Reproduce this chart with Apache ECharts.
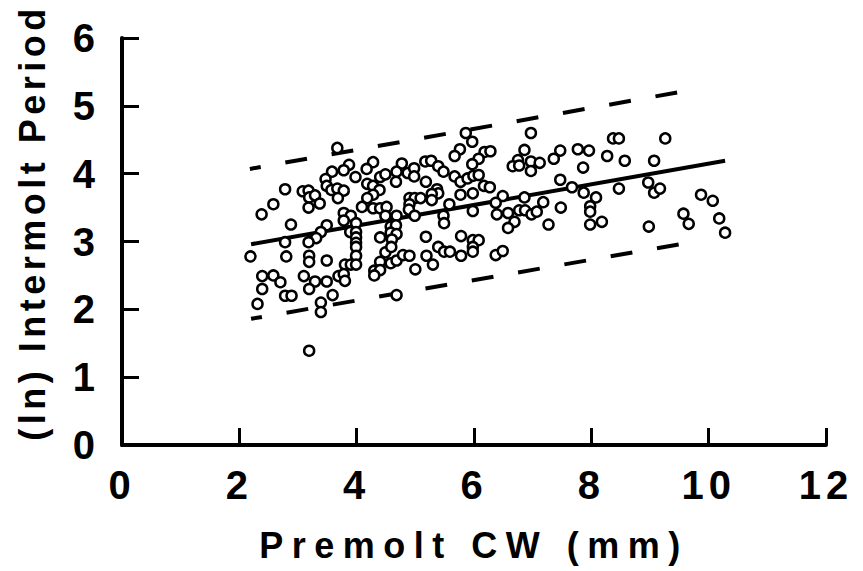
<!DOCTYPE html>
<html>
<head>
<meta charset="utf-8">
<script src="https://cdn.jsdelivr.net/npm/echarts@6/dist/echarts.min.js"></script>
<style>
  html, body { margin: 0; padding: 0; background: #fff; }
  #chart { width: 863px; height: 571px; }
  svg text { letter-spacing: 5px; }
</style>
</head>
<body>
<div id="chart"></div>
<script>
// Premolt carapace width (mm) of each observation
const cwX = [
  3.67,3.87,3.78,3.58,3.98,4.28,4.17,4.40,4.49,3.47,3.49,3.57,3.67,3.78,3.68,4.18,4.28,4.39,4.28,4.18,
  4.09,4.28,4.40,4.51,4.49,2.78,3.08,3.18,3.19,3.29,3.18,3.37,2.58,2.38,2.88,3.78,3.90,3.78,3.99,3.49,
  3.39,3.31,3.18,2.78,3.89,3.99,3.99,3.99,3.99,4.40,2.19,2.80,3.19,3.19,3.49,3.99,3.80,3.90,3.99,4.49,
  4.40,4.30,4.40,4.30,2.39,2.58,2.70,2.39,3.10,3.29,3.19,3.49,3.69,3.78,3.80,2.78,2.89,3.59,2.31,3.39,
  3.39,3.19,
  5.86,5.97,6.97,5.76,5.67,6.18,6.28,6.08,5.97,6.86,6.75,6.66,6.77,6.97,6.97,4.77,4.68,4.67,4.87,4.98,
  4.98,5.17,5.27,5.39,5.48,5.18,5.67,5.77,5.89,5.99,6.08,6.17,6.27,5.37,5.39,5.28,5.28,4.90,4.99,5.09,
  4.90,4.89,5.77,5.98,5.58,5.48,5.49,5.98,6.39,6.49,6.58,6.69,6.58,6.77,6.87,6.86,6.98,7.07,4.68,4.58,
  4.67,4.58,4.68,4.60,4.59,4.58,4.68,4.79,4.90,5.00,5.18,5.19,5.30,5.39,5.49,5.59,5.78,5.78,5.98,6.08,
  5.98,5.98,6.37,6.49,4.68,4.99,6.37,
  8.37,8.47,9.26,7.47,7.36,7.12,7.77,7.96,8.27,8.57,9.07,7.86,7.47,7.67,7.87,8.08,8.47,8.97,9.07,9.17,
  7.18,7.48,7.98,7.98,7.27,7.98,8.18,8.98,9.57,9.66,
  9.87,10.07,10.18,10.28
];
// (ln) intermolt period of each observation
const lnY = [
  4.38,4.13,4.05,4.03,3.95,4.17,4.07,3.95,3.99,3.92,3.82,3.76,3.78,3.75,3.64,3.85,3.82,3.76,3.69,3.64,
  3.51,3.49,3.49,3.51,3.38,3.77,3.74,3.75,3.65,3.68,3.50,3.56,3.55,3.40,3.25,3.42,3.38,3.31,3.27,3.24,
  3.14,3.05,2.99,2.99,3.14,3.14,3.06,2.98,2.92,3.06,2.78,2.78,2.79,2.70,2.72,2.79,2.66,2.66,2.66,2.84,
  2.70,2.57,2.58,2.50,2.49,2.50,2.40,2.30,2.49,2.41,2.30,2.41,2.49,2.52,2.42,2.20,2.20,2.21,2.08,2.10,
  1.96,1.39,
  4.60,4.47,4.60,4.36,4.26,4.32,4.33,4.22,4.14,4.35,4.20,4.11,4.12,4.18,4.04,4.15,4.03,3.88,4.01,4.08,
  3.96,4.18,4.19,4.11,4.03,3.88,3.96,3.88,3.93,3.97,3.98,3.82,3.80,3.77,3.71,3.70,3.61,3.64,3.64,3.64,
  3.55,3.47,3.69,3.71,3.55,3.38,3.27,3.45,3.40,3.67,3.42,3.29,3.20,3.46,3.46,3.65,3.40,3.44,3.38,3.22,
  3.24,3.13,3.11,3.03,2.92,2.68,2.72,2.80,2.79,2.59,3.07,2.79,2.66,2.92,2.85,2.85,3.08,2.79,3.02,3.02,
  2.92,2.85,2.80,2.86,2.21,3.38,3.57,
  4.52,4.52,4.52,4.34,4.22,4.16,4.36,4.34,4.26,4.19,4.19,4.09,3.91,3.80,3.72,3.65,3.78,3.87,3.72,3.78,
  3.58,3.50,3.52,3.44,3.25,3.25,3.29,3.22,3.41,3.26,
  3.69,3.60,3.34,3.13
];
// regression line and prediction limits (end points)
const fitX = [2.20, 10.28];
const fitY = [2.96, 4.19];
const upperX = [2.18, 9.68];
const upperY = [4.07, 5.23];
const lowerX = [2.20, 9.65];
const lowerY = [1.86, 2.98];
const xTicks = [0, 2, 4, 6, 8, 10, 12];
const yTicks = [0, 1, 2, 3, 4, 5, 6];
const xTitle = 'Premolt CW (mm)';
const yTitle = '(ln) Intermolt Period';

const zip = (a, b) => a.map((v, i) => [v, b[i]]);

const chart = echarts.init(document.getElementById('chart'), null, { renderer: 'svg' });
const font = 'Liberation Sans';
const lineSeries = (xs, ys, dashed) => ({
  type: 'line',
  data: zip(xs, ys),
  symbol: 'none',
  silent: true,
  z: 1,
  lineStyle: dashed
    ? { color: '#000', width: 4, type: [22, 25], dashOffset: 11 }
    : { color: '#000', width: 4 }
});

chart.on('finished', () => {
  document.querySelectorAll('#chart svg text').forEach(t => {
    const s = t.textContent;
    if (s === xTitle) t.style.letterSpacing = '8.5px';
    else if (s === yTitle) t.style.letterSpacing = '4.5px';
  });
});

chart.setOption({
  animation: false,
  backgroundColor: '#fff',
  grid: { left: 122, right: 37, top: 38, bottom: 126 },
  xAxis: {
    type: 'value',
    min: xTicks[0], max: xTicks[xTicks.length - 1], interval: 2,
    name: xTitle,
    nameLocation: 'middle',
    nameGap: 82,
    nameTextStyle: { fontFamily: font, fontSize: 36, fontWeight: 'bold', color: '#000', padding: [0, 0, 0, 0] },
    axisLine: { lineStyle: { color: '#000', width: 4 } },
    axisTick: { inside: true, length: 17, lineStyle: { color: '#000', width: 3 } },
    axisLabel: { margin: 20, fontFamily: font, fontSize: 40, fontWeight: 'bold', color: '#000' },
    splitLine: { show: false }
  },
  yAxis: {
    type: 'value',
    min: yTicks[0], max: yTicks[yTicks.length - 1], interval: 1,
    name: yTitle,
    nameLocation: 'middle',
    nameGap: 72,
    nameTextStyle: { fontFamily: font, fontSize: 36, fontWeight: 'bold', color: '#000', padding: [0, 0, 0, 38] },
    axisLine: { lineStyle: { color: '#000', width: 4 } },
    axisTick: { inside: true, length: 17, lineStyle: { color: '#000', width: 3 } },
    axisLabel: { margin: 22, fontFamily: font, fontSize: 40, fontWeight: 'bold', color: '#000' },
    splitLine: { show: false }
  },
  series: [
    lineSeries(fitX, fitY, false),
    lineSeries(upperX, upperY, true),
    lineSeries(lowerX, lowerY, true),
    {
      type: 'scatter',
      data: zip(cwX, lnY),
      symbol: 'circle',
      symbolSize: 10,
      z: 2,
      itemStyle: { color: '#fff', borderColor: '#000', borderWidth: 2.5, opacity: 1 }
    }
  ]
});
</script>
</body>
</html>
